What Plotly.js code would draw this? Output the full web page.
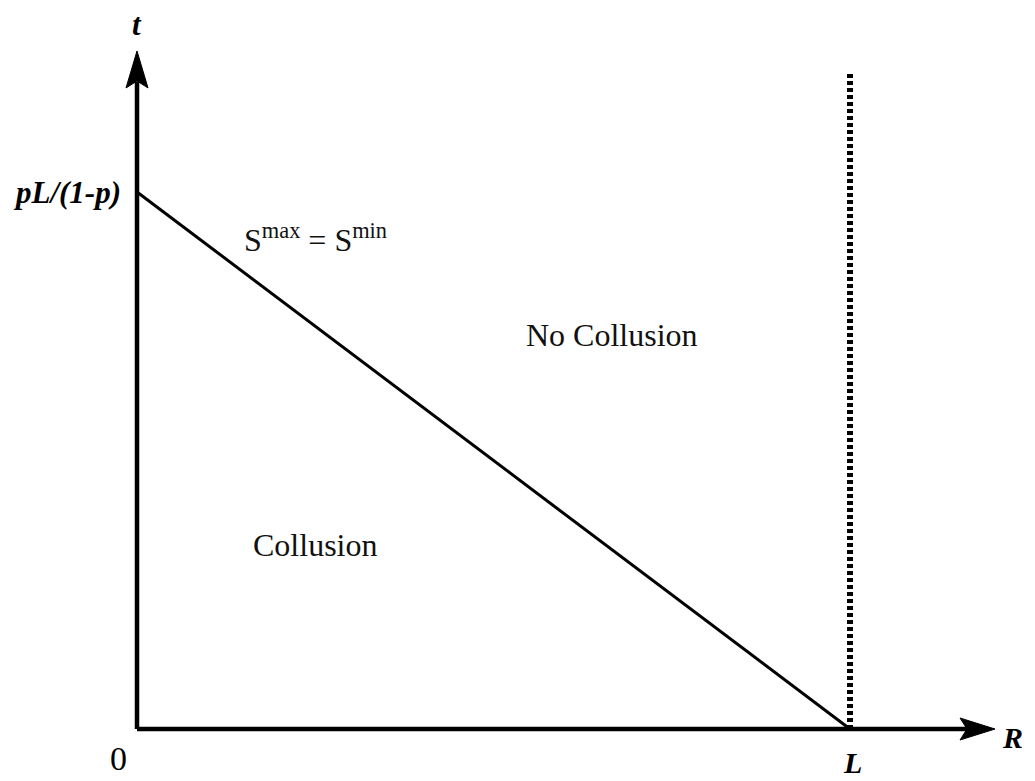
<!DOCTYPE html>
<html>
<head>
<meta charset="utf-8">
<script src="https://cdn.plot.ly/plotly-3.0.1.min.js"></script>
<style>
  html, body { margin: 0; padding: 0; background: #fff; }
  #chart { width: 1035px; height: 781px; }
</style>
</head>
<body>
<div id="chart"></div>
<script>
/***************************************************
 * Data (data units: R on x, t on y; L = 1, pL/(1-p) = 1)
 ***************************************************/
const L = 1;
const tIntercept = 1;             // pL/(1-p)
const boundaryX = [L, L];         // dotted line at R = L
const boundaryY = [0, 1.2235];
const frontierX = [0, L];         // s^max = s^min
const frontierY = [tIntercept, 0];
const xTip = 1.2034;              // arrow tips of the axes
const yTip = 1.2626;
const xLineEnd = 1.165;           // where axis shafts meet the arrowheads
const yLineEnd = 1.205;

// labels
const labelText = ['S<sup>max</sup> = S<sup>min</sup>', 'No Collusion', 'Collusion'];
const labelX = [0.2497, 0.6655, 0.2497];
const labelY = [0.915, 0.7337, 0.3426];

const serif = 'Liberation Serif';
const ink = '#000';

/***************************************************
 * Traces
 ***************************************************/
const traces = [
  // x axis shaft
  { x: [0, xLineEnd], y: [0, 0], mode: 'lines', line: { color: ink, width: 4.5 }, hoverinfo: 'skip' },
  // y axis shaft
  { x: [0, 0], y: [0, yLineEnd], mode: 'lines', line: { color: ink, width: 4.5 }, hoverinfo: 'skip' },
  // frontier line
  { x: frontierX, y: frontierY, mode: 'lines', line: { color: ink, width: 3 }, hoverinfo: 'skip' },
  // dotted boundary at R = L
  { x: boundaryX, y: boundaryY, mode: 'lines', line: { color: ink, width: 6, dash: '4px,3px' }, hoverinfo: 'skip' }
];

/***************************************************
 * Annotations
 ***************************************************/
const italicBold = (size) => ({ family: serif, size: size, color: ink, style: 'italic', weight: 'bold' });

const annotations = [
  { x: 0, y: 1.3128, text: 't', font: italicBold(31) },
  { x: -0.0196, y: tIntercept, text: 'pL/(1-p)', xanchor: 'right', font: italicBold(31) },
  { x: -0.0266, y: -0.055, text: '0', font: { family: serif, size: 34, color: ink } },
  { x: L + 0.0028, y: -0.0962, yanchor: 'bottom', text: 'L', font: italicBold(30) },
  { x: xTip + 0.0245, y: -0.016, text: 'R', font: italicBold(30) }
];
labelText.forEach((txt, i) => {
  annotations.push({
    x: labelX[i], y: labelY[i], text: txt,
    font: { family: serif, size: 32, color: '#111' }
  });
});
annotations.forEach(a => { a.showarrow = false; a.xref = 'x'; a.yref = 'y'; });

/***************************************************
 * Arrowheads (pixel-sized, anchored at the axis tips)
 ***************************************************/
const shapes = [
  {
    type: 'path', xref: 'x', yref: 'y',
    xsizemode: 'pixel', ysizemode: 'pixel', xanchor: xTip, yanchor: 0,
    path: 'M0,0 L-35,11 L-28,0 L-35,-11 Z',
    fillcolor: ink, line: { color: ink, width: 1 }
  },
  {
    type: 'path', xref: 'x', yref: 'y',
    xsizemode: 'pixel', ysizemode: 'pixel', xanchor: 0, yanchor: yTip,
    path: 'M0,0 L11,-37 L0,-30 L-11,-37 Z',
    fillcolor: ink, line: { color: ink, width: 1 }
  }
];

const layout = {
  width: 1035,
  height: 781,
  margin: { l: 0, r: 0, t: 0, b: 0 },
  paper_bgcolor: '#fff',
  plot_bgcolor: '#fff',
  showlegend: false,
  xaxis: { range: [-0.19215, 1.25947], visible: false, fixedrange: true },
  yaxis: { range: [-0.09683, 1.35754], visible: false, fixedrange: true },
  annotations: annotations,
  shapes: shapes
};

Plotly.newPlot('chart', traces, layout, { displayModeBar: false, staticPlot: true });
</script>
</body>
</html>
